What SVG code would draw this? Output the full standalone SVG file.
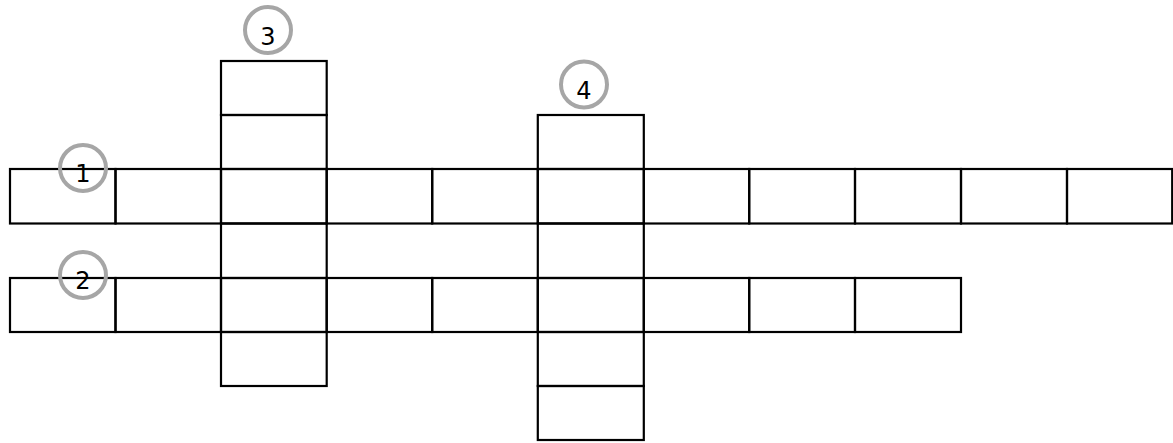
<svg xmlns="http://www.w3.org/2000/svg" width="1173" height="443" viewBox="0 0 1173 443">
<style>
.c{fill:none;stroke:#000;stroke-width:2.2}
.n{fill:none;stroke:#a6a6a6;stroke-width:4}
.t{font-family:"DejaVu Sans",sans-serif;font-size:24px;fill:#000;text-anchor:middle}
</style>
<rect width="1173" height="443" fill="#fff"/>
<g id="across1">
<rect class="c" x="10" y="169" width="105.5" height="54.5"/>
<rect class="c" x="115.5" y="169" width="105.5" height="54.5"/>
<rect class="c" x="221" y="169" width="105.7" height="54.5"/>
<rect class="c" x="326.7" y="169" width="105.5" height="54.5"/>
<rect class="c" x="432.2" y="169" width="105.6" height="54.5"/>
<rect class="c" x="537.8" y="169" width="106" height="54.5"/>
<rect class="c" x="643.8" y="169" width="105.4" height="54.5"/>
<rect class="c" x="749.2" y="169" width="105.8" height="54.5"/>
<rect class="c" x="855" y="169" width="106" height="54.5"/>
<rect class="c" x="961" y="169" width="106" height="54.5"/>
<rect class="c" x="1067" y="169" width="105.2" height="54.5"/>
</g>
<g id="across2">
<rect class="c" x="10" y="278" width="105.5" height="54"/>
<rect class="c" x="115.5" y="278" width="105.5" height="54"/>
<rect class="c" x="221" y="278" width="105.7" height="54"/>
<rect class="c" x="326.7" y="278" width="105.5" height="54"/>
<rect class="c" x="432.2" y="278" width="105.6" height="54"/>
<rect class="c" x="537.8" y="278" width="106" height="54"/>
<rect class="c" x="643.8" y="278" width="105.4" height="54"/>
<rect class="c" x="749.2" y="278" width="105.8" height="54"/>
<rect class="c" x="855" y="278" width="106" height="54"/>
</g>
<g id="down3">
<rect class="c" x="221" y="61" width="105.7" height="54"/>
<rect class="c" x="221" y="115" width="105.7" height="54"/>
<rect class="c" x="221" y="223.5" width="105.7" height="54.5"/>
<rect class="c" x="221" y="332" width="105.7" height="54"/>
</g>
<g id="down4">
<rect class="c" x="537.8" y="115" width="106" height="54"/>
<rect class="c" x="537.8" y="223.5" width="106" height="54.5"/>
<rect class="c" x="537.8" y="332" width="106" height="54"/>
<rect class="c" x="537.8" y="386" width="106" height="54"/>
</g>
<g id="label1">
<circle class="n" cx="83" cy="168" r="23"/>
<text class="t" x="83" y="182">1</text>
</g>
<g id="label2">
<circle class="n" cx="83" cy="275" r="23"/>
<text class="t" x="83" y="289">2</text>
</g>
<g id="label3">
<circle class="n" cx="268" cy="30" r="23"/>
<text class="t" x="268" y="45">3</text>
</g>
<g id="label4">
<circle class="n" cx="584" cy="84.5" r="23"/>
<text class="t" x="584" y="99">4</text>
</g>
<g id="connectors"></g>
</svg>
